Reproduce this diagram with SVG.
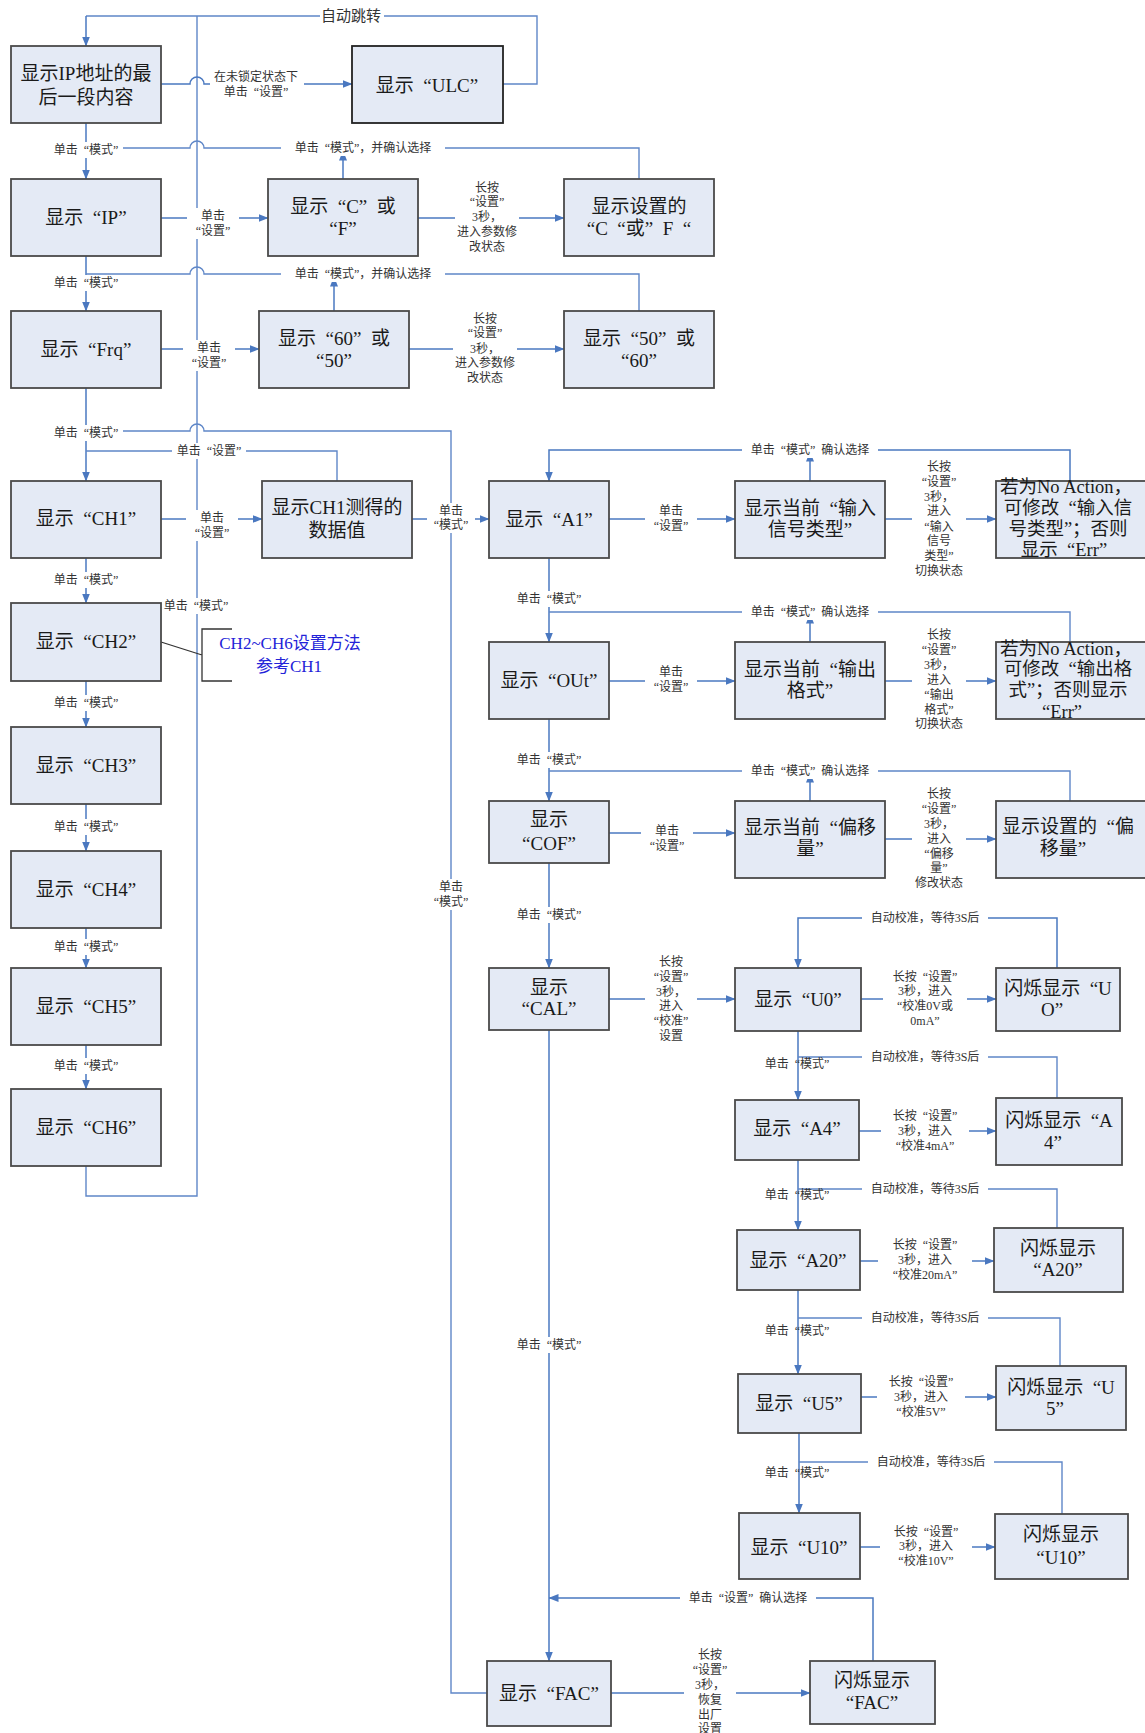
<svg xmlns="http://www.w3.org/2000/svg" width="1145" height="1733" viewBox="0 0 1145 1733">
<defs>
<marker id="ar" markerUnits="userSpaceOnUse" markerWidth="10" markerHeight="8" refX="9.5" refY="4" orient="auto"><path d="M0,0 L10,4 L0,8 z" fill="#4A78C0"/></marker>
<style>
.box{fill:#E4EAF5;stroke:#4A4A4A;stroke-width:1.8}
.bt{font-family:"Liberation Serif","Noto Sans CJK SC",serif;font-size:19px;fill:#1A1A1A;text-anchor:middle;dominant-baseline:central}
.na{font-size:18.5px}
.ln{fill:none;stroke:#5F87C8;stroke-width:1.4}
.la{fill:none;stroke:#4A78C0;stroke-width:1.5;marker-end:url(#ar)}
.lt{font-family:"Liberation Serif","Noto Sans CJK SC",serif;font-size:12px;fill:#333;text-anchor:middle;dominant-baseline:central}
.bg{fill:#FFFFFF}
.blue{font-family:"Liberation Serif","Noto Sans CJK SC",serif;font-size:17px;fill:#2323D8;text-anchor:middle;dominant-baseline:central}
</style>
</defs>
<rect width="1145" height="1733" fill="#FFFFFF"/>

<g id="connectors">
<path class="ln" d="M503,84 L537,84 L537,16 L86,16"/>
<path class="la" d="M86,16 L86,46"/>
<path class="ln" d="M86,1166 L86,1196 L197,1196 L197,16"/>
<path class="la" d="M161,84 L190,84 A7,7 0 0 1 204,84 L352,84"/>
<path class="la" d="M86,123 L86,179"/>
<path class="ln" d="M639,179 L639,148 L204,148 A7,7 0 0 0 190,148 L86,148"/>
<path class="la" d="M343,179 L343,151"/>
<path class="la" d="M161,218 L268,218"/>
<path class="la" d="M418,218 L564,218"/>
<path class="la" d="M86,256 L86,311"/>
<path class="ln" d="M639,311 L639,274 L204,274 A7,7 0 0 0 190,274 L86,274"/>
<path class="la" d="M334,311 L334,277"/>
<path class="la" d="M161,349 L259,349"/>
<path class="la" d="M409,349 L564,349"/>
<path class="la" d="M86,388 L86,481"/>
<path class="ln" d="M86,431 L190,431 A7,7 0 0 1 204,431 L451,431 L451,1693 L487,1693"/>
<path class="ln" d="M337,481 L337,451 L86,451"/>
<path class="la" d="M161,519 L262,519"/>
<path class="la" d="M412,519 L489,519"/>
<path class="la" d="M86,558 L86,603"/>
<path class="la" d="M86,681 L86,727"/>
<path class="la" d="M86,804 L86,851"/>
<path class="la" d="M86,928 L86,968"/>
<path class="la" d="M86,1045 L86,1089"/>
<path class="la" d="M1070,481 L1070,450 L549,450 L549,481"/>
<path class="la" d="M810,481 L810,452"/>
<path class="la" d="M609,519 L735,519"/>
<path class="la" d="M885,519 L996,519"/>
<path class="la" d="M549,558 L549,642"/>
<path class="ln" d="M1070,642 L1070,612 L549,612"/>
<path class="la" d="M810,642 L810,614"/>
<path class="la" d="M609,681 L735,681"/>
<path class="la" d="M885,681 L996,681"/>
<path class="la" d="M549,719 L549,801"/>
<path class="ln" d="M1070,801 L1070,771 L549,771"/>
<path class="la" d="M810,801 L810,773"/>
<path class="la" d="M609,833 L735,833"/>
<path class="la" d="M885,839 L996,839"/>
<path class="la" d="M549,863 L549,968"/>
<path class="la" d="M609,999 L735,999"/>
<path class="la" d="M1057,968 L1057,918 L798,918 L798,968"/>
<path class="la" d="M861,999 L996,999"/>
<path class="la" d="M798,1031 L798,1100"/>
<path class="ln" d="M1057,1098 L1057,1057 L798,1057"/>
<path class="la" d="M859,1131 L996,1131"/>
<path class="la" d="M798,1160 L798,1230"/>
<path class="ln" d="M1057,1228 L1057,1189 L798,1189"/>
<path class="la" d="M860,1261 L994,1261"/>
<path class="la" d="M798,1290 L798,1374"/>
<path class="ln" d="M1060,1366 L1060,1318 L798,1318"/>
<path class="la" d="M861,1397 L996,1397"/>
<path class="la" d="M799,1433 L799,1513"/>
<path class="ln" d="M1062,1514 L1062,1462 L799,1462"/>
<path class="la" d="M860,1547 L995,1547"/>
<path class="la" d="M549,1030 L549,1661"/>
<path class="la" d="M873,1661 L873,1598 L549,1598"/>
<path class="la" d="M611,1693 L810,1693"/>
<path fill="none" stroke="#333" stroke-width="1.3" d="M161,642 L202,655 M232,629 L202,629 L202,681 L232,681"/>
</g>

<g id="labels">
<rect class="bg" x="320" y="7" width="64" height="18"/><text class="lt" x="351" y="16" style="font-size:15px">自动跳转</text>
<rect class="bg" x="210" y="69" width="94" height="31"/><text class="lt" x="256" y="77">在未锁定状态下</text><text class="lt" x="256" y="92">单击&#8194;“设置”</text>
<rect class="bg" x="49" y="142" width="74" height="16"/><text class="lt" x="86" y="150">单击&#8194;“模式”</text>
<rect class="bg" x="281" y="140" width="164" height="16"/><text class="lt" x="363" y="148">单击&#8194;“模式”，并确认选择</text>
<rect class="bg" x="187" y="208" width="52" height="31"/><text class="lt" x="213" y="216">单击</text><text class="lt" x="213" y="231">“设置”</text>
<rect class="bg" x="455" y="180" width="64" height="75"/><text class="lt" x="487" y="188">长按</text><text class="lt" x="487" y="202">“设置”</text><text class="lt" x="487" y="217">3秒，</text><text class="lt" x="487" y="232">进入参数修</text><text class="lt" x="487" y="247">改状态</text>
<rect class="bg" x="49" y="275" width="74" height="16"/><text class="lt" x="86" y="283">单击&#8194;“模式”</text>
<rect class="bg" x="281" y="266" width="164" height="16"/><text class="lt" x="363" y="274">单击&#8194;“模式”，并确认选择</text>
<rect class="bg" x="183" y="340" width="52" height="31"/><text class="lt" x="209" y="348">单击</text><text class="lt" x="209" y="363">“设置”</text>
<rect class="bg" x="453" y="311" width="64" height="75"/><text class="lt" x="485" y="319">长按</text><text class="lt" x="485" y="333">“设置”</text><text class="lt" x="485" y="349">3秒，</text><text class="lt" x="485" y="363">进入参数修</text><text class="lt" x="485" y="378">改状态</text>
<rect class="bg" x="49" y="425" width="74" height="16"/><text class="lt" x="86" y="433">单击&#8194;“模式”</text>
<rect class="bg" x="172" y="443" width="74" height="16"/><text class="lt" x="209" y="451">单击&#8194;“设置”</text>
<rect class="bg" x="186" y="510" width="52" height="31"/><text class="lt" x="212" y="518">单击</text><text class="lt" x="212" y="533">“设置”</text>
<rect class="bg" x="427" y="503" width="48" height="30"/><text class="lt" x="451" y="511">单击</text><text class="lt" x="451" y="525">“模式”</text>
<rect class="bg" x="49" y="572" width="74" height="16"/><text class="lt" x="86" y="580">单击&#8194;“模式”</text>
<rect class="bg" x="159" y="598" width="74" height="16"/><text class="lt" x="196" y="606">单击&#8194;“模式”</text>
<rect class="bg" x="49" y="695" width="74" height="16"/><text class="lt" x="86" y="703">单击&#8194;“模式”</text>
<rect class="bg" x="49" y="819" width="74" height="16"/><text class="lt" x="86" y="827">单击&#8194;“模式”</text>
<rect class="bg" x="49" y="939" width="74" height="16"/><text class="lt" x="86" y="947">单击&#8194;“模式”</text>
<rect class="bg" x="49" y="1058" width="74" height="16"/><text class="lt" x="86" y="1066">单击&#8194;“模式”</text>
<rect class="bg" x="425" y="879" width="52" height="31"/><text class="lt" x="451" y="887">单击</text><text class="lt" x="451" y="902">“模式”</text>
<rect class="bg" x="742" y="442" width="136" height="16"/><text class="lt" x="810" y="450">单击&#8194;“模式”&#8194;确认选择</text>
<rect class="bg" x="645" y="503" width="52" height="31"/><text class="lt" x="671" y="511">单击</text><text class="lt" x="671" y="526">“设置”</text>
<rect class="bg" x="912" y="459" width="54" height="120"/><text class="lt" x="939" y="467">长按</text><text class="lt" x="939" y="482">“设置”</text><text class="lt" x="939" y="497">3秒，</text><text class="lt" x="939" y="511">进入</text><text class="lt" x="939" y="527">“输入</text><text class="lt" x="939" y="541">信号</text><text class="lt" x="939" y="556">类型”</text><text class="lt" x="939" y="571">切换状态</text>
<rect class="bg" x="512" y="591" width="74" height="16"/><text class="lt" x="549" y="599">单击&#8194;“模式”</text>
<rect class="bg" x="742" y="604" width="136" height="16"/><text class="lt" x="810" y="612">单击&#8194;“模式”&#8194;确认选择</text>
<rect class="bg" x="645" y="664" width="52" height="31"/><text class="lt" x="671" y="672">单击</text><text class="lt" x="671" y="687">“设置”</text>
<rect class="bg" x="912" y="627" width="54" height="105"/><text class="lt" x="939" y="635">长按</text><text class="lt" x="939" y="650">“设置”</text><text class="lt" x="939" y="665">3秒，</text><text class="lt" x="939" y="680">进入</text><text class="lt" x="939" y="695">“输出</text><text class="lt" x="939" y="710">格式”</text><text class="lt" x="939" y="724">切换状态</text>
<rect class="bg" x="512" y="752" width="74" height="16"/><text class="lt" x="549" y="760">单击&#8194;“模式”</text>
<rect class="bg" x="742" y="763" width="136" height="16"/><text class="lt" x="810" y="771">单击&#8194;“模式”&#8194;确认选择</text>
<rect class="bg" x="641" y="823" width="52" height="31"/><text class="lt" x="667" y="831">单击</text><text class="lt" x="667" y="846">“设置”</text>
<rect class="bg" x="912" y="786" width="54" height="105"/><text class="lt" x="939" y="794">长按</text><text class="lt" x="939" y="809">“设置”</text><text class="lt" x="939" y="824">3秒，</text><text class="lt" x="939" y="839">进入</text><text class="lt" x="939" y="854">“偏移</text><text class="lt" x="939" y="868">量”</text><text class="lt" x="939" y="883">修改状态</text>
<rect class="bg" x="512" y="907" width="74" height="16"/><text class="lt" x="549" y="915">单击&#8194;“模式”</text>
<rect class="bg" x="645" y="954" width="52" height="90"/><text class="lt" x="671" y="962">长按</text><text class="lt" x="671" y="977">“设置”</text><text class="lt" x="671" y="992">3秒，</text><text class="lt" x="671" y="1006">进入</text><text class="lt" x="671" y="1021">“校准”</text><text class="lt" x="671" y="1036">设置</text>
<rect class="bg" x="862" y="910" width="126" height="16"/><text class="lt" x="925" y="918">自动校准，等待3S后</text>
<rect class="bg" x="883" y="969" width="84" height="60"/><text class="lt" x="925" y="977">长按&#8194;“设置”</text><text class="lt" x="925" y="991">3秒，进入</text><text class="lt" x="925" y="1006">“校准0V或</text><text class="lt" x="925" y="1021">0mA”</text>
<text class="lt" x="797" y="1064">单击&#8194;“模式”</text>
<rect class="bg" x="862" y="1049" width="126" height="16"/><text class="lt" x="925" y="1057">自动校准，等待3S后</text>
<rect class="bg" x="881" y="1108" width="88" height="46"/><text class="lt" x="925" y="1116">长按&#8194;“设置”</text><text class="lt" x="925" y="1131">3秒，进入</text><text class="lt" x="925" y="1146">“校准4mA”</text>
<text class="lt" x="797" y="1195">单击&#8194;“模式”</text>
<rect class="bg" x="862" y="1181" width="126" height="16"/><text class="lt" x="925" y="1189">自动校准，等待3S后</text>
<rect class="bg" x="878" y="1237" width="94" height="46"/><text class="lt" x="925" y="1245">长按&#8194;“设置”</text><text class="lt" x="925" y="1260">3秒，进入</text><text class="lt" x="925" y="1275">“校准20mA”</text>
<text class="lt" x="797" y="1331">单击&#8194;“模式”</text>
<rect class="bg" x="862" y="1310" width="126" height="16"/><text class="lt" x="925" y="1318">自动校准，等待3S后</text>
<rect class="bg" x="877" y="1374" width="88" height="46"/><text class="lt" x="921" y="1382">长按&#8194;“设置”</text><text class="lt" x="921" y="1397">3秒，进入</text><text class="lt" x="921" y="1412">“校准5V”</text>
<text class="lt" x="797" y="1473">单击&#8194;“模式”</text>
<rect class="bg" x="868" y="1454" width="126" height="16"/><text class="lt" x="931" y="1462">自动校准，等待3S后</text>
<rect class="bg" x="880" y="1524" width="92" height="45"/><text class="lt" x="926" y="1532">长按&#8194;“设置”</text><text class="lt" x="926" y="1546">3秒，进入</text><text class="lt" x="926" y="1561">“校准10V”</text>
<rect class="bg" x="512" y="1337" width="74" height="16"/><text class="lt" x="549" y="1345">单击&#8194;“模式”</text>
<rect class="bg" x="680" y="1590" width="136" height="16"/><text class="lt" x="748" y="1598">单击&#8194;“设置”&#8194;确认选择</text>
<rect class="bg" x="684" y="1647" width="52" height="86"/><text class="lt" x="710" y="1655">长按</text><text class="lt" x="710" y="1670">“设置”</text><text class="lt" x="710" y="1685">3秒，</text><text class="lt" x="710" y="1700">恢复</text><text class="lt" x="710" y="1715">出厂</text><text class="lt" x="710" y="1729">设置</text>
<text class="blue" x="290" y="643">CH2~CH6设置方法</text><text class="blue" x="289" y="666">参考CH1</text>
</g>

<g id="n_ip_last"><rect class="box" x="11" y="46" width="150" height="77"/><text class="bt" x="86" y="73">显示IP地址的最</text><text class="bt" x="86" y="97">后一段内容</text></g>
<g id="n_ulc"><rect class="box" x="352" y="46" width="151" height="77" style="stroke:#222"/><text class="bt" x="427" y="85">显示&#8194;“ULC”</text></g>
<g id="n_ip"><rect class="box" x="11" y="179" width="150" height="77"/><text class="bt" x="86" y="217">显示&#8194;“IP”</text></g>
<g id="n_cf"><rect class="box" x="268" y="179" width="150" height="77"/><text class="bt" x="343" y="206">显示&#8194;“C”&#8194;或</text><text class="bt" x="343" y="228">“F”</text></g>
<g id="n_setcf"><rect class="box" x="564" y="179" width="150" height="77"/><text class="bt" x="639" y="206">显示设置的</text><text class="bt" x="639" y="228">“C&#8194;“或”&#8194;F&#8194;“</text></g>
<g id="n_frq"><rect class="box" x="11" y="311" width="150" height="77"/><text class="bt" x="86" y="349">显示&#8194;“Frq”</text></g>
<g id="n_6050"><rect class="box" x="259" y="311" width="150" height="77"/><text class="bt" x="334" y="338">显示&#8194;“60”&#8194;或</text><text class="bt" x="334" y="360">“50”</text></g>
<g id="n_5060"><rect class="box" x="564" y="311" width="150" height="77"/><text class="bt" x="639" y="338">显示&#8194;“50”&#8194;或</text><text class="bt" x="639" y="360">“60”</text></g>
<g id="n_ch1"><rect class="box" x="11" y="481" width="150" height="77"/><text class="bt" x="86" y="518">显示&#8194;“CH1”</text></g>
<g id="n_ch1data"><rect class="box" x="262" y="481" width="150" height="77"/><text class="bt" x="337" y="507">显示CH1测得的</text><text class="bt" x="337" y="530">数据值</text></g>
<g id="n_a1"><rect class="box" x="489" y="481" width="120" height="77"/><text class="bt" x="549" y="519">显示&#8194;“A1”</text></g>
<g id="n_info1"><rect class="box" x="735" y="481" width="150" height="77"/><text class="bt" x="810" y="508">显示当前&#8194;“输入</text><text class="bt" x="810" y="529">信号类型”</text></g>
<g id="n_na1"><rect class="box" x="996" y="481" width="154" height="77"/><text class="bt na" x="1066" y="487">若为No Action，</text><text class="bt na" x="1068" y="508">可修改&#8194;“输入信</text><text class="bt na" x="1068" y="529">号类型”；否则</text><text class="bt na" x="1064" y="550">显示&#8194;“Err”</text></g>
<g id="n_ch2"><rect class="box" x="11" y="603" width="150" height="78"/><text class="bt" x="86" y="641">显示&#8194;“CH2”</text></g>
<g id="n_out"><rect class="box" x="489" y="642" width="120" height="77"/><text class="bt" x="549" y="680">显示&#8194;“OUt”</text></g>
<g id="n_info2"><rect class="box" x="735" y="642" width="150" height="77"/><text class="bt" x="810" y="669">显示当前&#8194;“输出</text><text class="bt" x="810" y="690">格式”</text></g>
<g id="n_na2"><rect class="box" x="996" y="642" width="154" height="77"/><text class="bt na" x="1066" y="649">若为No Action，</text><text class="bt na" x="1068" y="669">可修改&#8194;“输出格</text><text class="bt na" x="1068" y="690">式”；否则显示</text><text class="bt na" x="1062" y="712">“Err”</text></g>
<g id="n_ch3"><rect class="box" x="11" y="727" width="150" height="77"/><text class="bt" x="86" y="765">显示&#8194;“CH3”</text></g>
<g id="n_cof"><rect class="box" x="489" y="801" width="120" height="62"/><text class="bt" x="549" y="819">显示</text><text class="bt" x="549" y="843">“COF”</text></g>
<g id="n_info3"><rect class="box" x="735" y="801" width="150" height="77"/><text class="bt" x="810" y="827">显示当前&#8194;“偏移</text><text class="bt" x="810" y="848">量”</text></g>
<g id="n_setoff"><rect class="box" x="996" y="801" width="154" height="77"/><text class="bt" x="1068" y="826">显示设置的&#8194;“偏</text><text class="bt" x="1063" y="848">移量”</text></g>
<g id="n_ch4"><rect class="box" x="11" y="851" width="150" height="77"/><text class="bt" x="86" y="889">显示&#8194;“CH4”</text></g>
<g id="n_cal"><rect class="box" x="489" y="968" width="120" height="62"/><text class="bt" x="549" y="987">显示</text><text class="bt" x="549" y="1008">“CAL”</text></g>
<g id="n_u0"><rect class="box" x="735" y="968" width="126" height="63"/><text class="bt" x="798" y="999">显示&#8194;“U0”</text></g>
<g id="n_fu0"><rect class="box" x="996" y="968" width="124" height="63"/><text class="bt" x="1058" y="988">闪烁显示&#8194;“U</text><text class="bt" x="1052" y="1009">O”</text></g>
<g id="n_ch5"><rect class="box" x="11" y="968" width="150" height="77"/><text class="bt" x="86" y="1006">显示&#8194;“CH5”</text></g>
<g id="n_ch6"><rect class="box" x="11" y="1089" width="150" height="77"/><text class="bt" x="86" y="1127">显示&#8194;“CH6”</text></g>
<g id="n_a4"><rect class="box" x="735" y="1100" width="124" height="60"/><text class="bt" x="797" y="1128">显示&#8194;“A4”</text></g>
<g id="n_fa4"><rect class="box" x="996" y="1098" width="126" height="67"/><text class="bt" x="1059" y="1120">闪烁显示&#8194;“A</text><text class="bt" x="1053" y="1142">4”</text></g>
<g id="n_a20"><rect class="box" x="737" y="1230" width="123" height="60"/><text class="bt" x="798" y="1260">显示&#8194;“A20”</text></g>
<g id="n_fa20"><rect class="box" x="994" y="1228" width="129" height="64"/><text class="bt" x="1058" y="1248">闪烁显示</text><text class="bt" x="1058" y="1269">“A20”</text></g>
<g id="n_u5"><rect class="box" x="738" y="1374" width="123" height="59"/><text class="bt" x="799" y="1403">显示&#8194;“U5”</text></g>
<g id="n_fu5"><rect class="box" x="996" y="1366" width="130" height="64"/><text class="bt" x="1061" y="1387">闪烁显示&#8194;“U</text><text class="bt" x="1055" y="1408">5”</text></g>
<g id="n_u10"><rect class="box" x="739" y="1513" width="121" height="66"/><text class="bt" x="799" y="1547">显示&#8194;“U10”</text></g>
<g id="n_fu10"><rect class="box" x="995" y="1514" width="133" height="65"/><text class="bt" x="1061" y="1534">闪烁显示</text><text class="bt" x="1061" y="1557">“U10”</text></g>
<g id="n_fac"><rect class="box" x="487" y="1661" width="124" height="65"/><text class="bt" x="549" y="1693">显示&#8194;“FAC”</text></g>
<g id="n_ffac"><rect class="box" x="810" y="1661" width="125" height="63"/><text class="bt" x="872" y="1680">闪烁显示</text><text class="bt" x="872" y="1702">“FAC”</text></g>
</svg>
